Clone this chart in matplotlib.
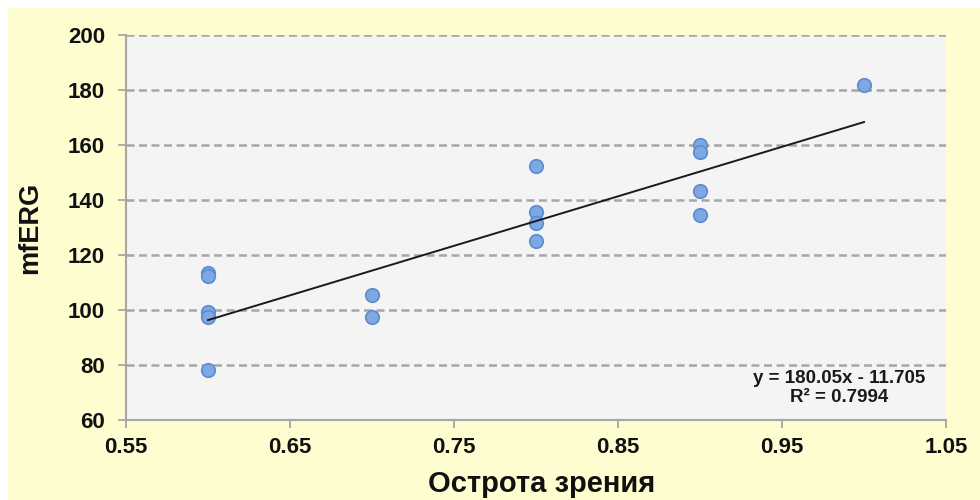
import numpy as np
import matplotlib.pyplot as plt
from matplotlib.patches import Rectangle

plt.rcParams['font.family'] = ['Liberation Sans', 'DejaVu Sans']

# visual acuity vs mfERG
acuity = [0.6, 0.6, 0.6, 0.6, 0.6,
          0.7, 0.7,
          0.8, 0.8, 0.8, 0.8,
          0.9, 0.9, 0.9, 0.9,
          1.0]
mferg = [113.5, 112.3, 99.4, 97.6, 78.3,
         105.6, 97.3,
         152.2, 135.5, 131.8, 125.0,
         160.0, 157.3, 143.4, 134.6,
         181.8]

slope = 180.05
intercept = -11.705
r2 = 0.7994

x_ticks = [0.55, 0.65, 0.75, 0.85, 0.95, 1.05]
y_ticks = [60, 80, 100, 120, 140, 160, 180, 200]

fig = plt.figure(figsize=(9.8, 5), dpi=100, facecolor='white')
bg = Rectangle((8 / 980, 0), 1, 1 - 8 / 500, transform=fig.transFigure,
               facecolor='#FEFDD0', edgecolor='none', zorder=-10)
fig.add_artist(bg)

ax = fig.add_axes([126 / 980, 80 / 500, 820 / 980, 385 / 500])
ax.set_facecolor('#F4F4F4')

for yv in y_ticks[1:]:
    ax.axhline(yv, color='#A6A6A6', linewidth=1.8, linestyle=(0, (3.2, 1.8)), zorder=1)

ax.scatter(acuity, mferg, s=95, color='#7DA8E2', edgecolors='#5B8BD2', linewidths=1.2, zorder=3)

xl = np.array([min(acuity), max(acuity)])
ax.plot(xl, slope * xl + intercept, color='#1A1A1A', linewidth=1.4, zorder=4)

ax.text(0.985, 71.5, f'y = {slope}x - {abs(intercept)}\nR² = {r2}', ha='center', va='center',
        fontsize=13.5, fontweight='bold', color='#1A1A1A', linespacing=1.15)

ax.set_xlim(0.55, 1.05)
ax.set_ylim(60, 200)
ax.set_xticks(x_ticks)
ax.set_yticks(y_ticks)
ax.set_xticklabels([f'{t:.2f}' for t in x_ticks])

for s in ['top', 'right']:
    ax.spines[s].set_visible(False)
for s in ['left', 'bottom']:
    ax.spines[s].set_color('#A6A6A6')
    ax.spines[s].set_linewidth(1.5)

ax.tick_params(axis='both', direction='out', length=6, width=1.3, color='#A6A6A6',
               labelsize=16, labelcolor='#111111')
ax.tick_params(axis='y', pad=9)
ax.tick_params(axis='x', pad=6)
for lab in ax.get_xticklabels() + ax.get_yticklabels():
    lab.set_fontweight('bold')

ax.set_xlabel('Острота зрения', fontsize=21, fontweight='bold', color='#111111')
ax.set_ylabel('mfERG', fontsize=19.5, fontweight='bold', color='#111111')
ax.xaxis.set_label_coords(0.507, -0.13)
ax.yaxis.set_label_coords(-0.101, 0.5)

fig.savefig('out.png', dpi=100)
